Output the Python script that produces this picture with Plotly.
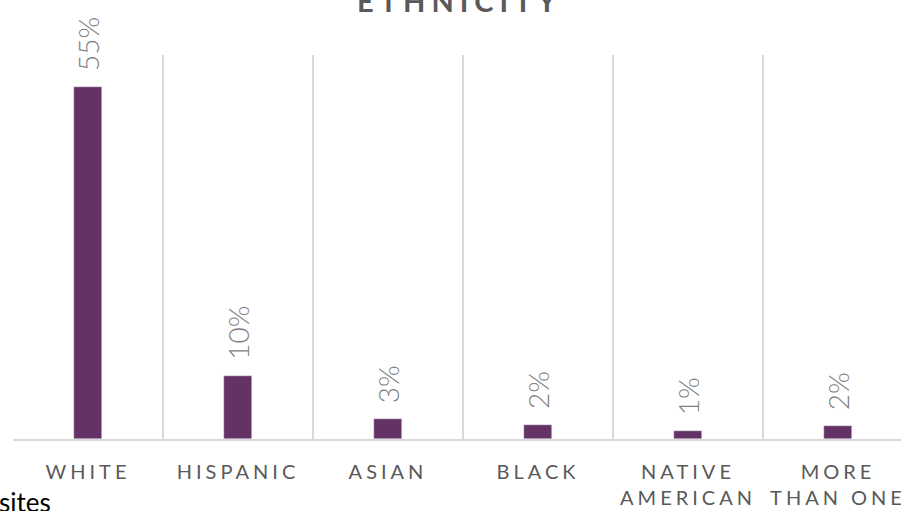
import plotly.graph_objects as go

categories = ["WHITE", "HISPANIC", "ASIAN", "BLACK", "NATIVE<br>AMERICAN", "MORE<br>THAN ONE"]
values = [55.0, 9.9, 3.1, 2.2, 1.2, 2.0]
labels = ["55%", "10%", "3%", "2%", "1%", "2%"]

BAR = "#643264"
GRID = "#d9d9d9"
xpos = list(range(len(categories)))
bounds = [i - 0.5 for i in range(len(categories) + 1)]
xr = [-0.5, 5.42]

fig = go.Figure()
fig.add_trace(go.Bar(x=xpos, y=values, marker_color=BAR, width=0.187,
                     hoverinfo="skip", showlegend=False))
# invisible trace for the grid axis
fig.add_trace(go.Scatter(x=[bounds[0]], y=[0], xaxis="x2", mode="markers",
                         marker=dict(opacity=0), showlegend=False, hoverinfo="skip"))

for xi, v, t in zip(xpos, values, labels):
    fig.add_annotation(x=xi, y=v, xref="x", yref="y", text=t, textangle=-90,
                       showarrow=False, yanchor="bottom", yshift=14,
                       font=dict(family="Lato", size=28, color="#7f7f7f", weight=300))

fig.add_annotation(x=0.503, y=1.092, xref="paper", yref="paper", text="ETHNICITY",
                   showarrow=False, xanchor="center", yanchor="bottom",
                   font=dict(family="Lato", size=29, color="#595959", weight="bold"))
fig.add_annotation(x=-0.0185, y=-0.118, xref="paper", yref="paper", text="sites",
                   showarrow=False, xanchor="left", yanchor="top",
                   font=dict(family="Lato", size=26, color="#000000"))

fig.update_layout(
    width=901, height=511,
    margin=dict(l=13, r=0, t=55, b=72),
    paper_bgcolor="white", plot_bgcolor="white",
    bargap=0,
    xaxis=dict(range=xr, tickvals=xpos, ticktext=categories, showgrid=False,
               showline=True, linecolor=GRID, linewidth=2, ticks="",
               ticklabelstandoff=14, zeroline=False, automargin=False,
               tickfont=dict(family="Lato", size=20, color="#595959")),
    xaxis2=dict(range=xr, overlaying="x", tickvals=bounds, showgrid=True,
                gridcolor=GRID, gridwidth=1.5, showticklabels=False, ticks="",
                zeroline=False, side="bottom"),
    yaxis=dict(range=[0, 60], showgrid=False, showticklabels=False,
               zeroline=False, showline=False, ticks=""),
)

post = """
document.body.style.margin='0';
document.body.style.overflow='hidden';
document.querySelectorAll('.xtick text').forEach(function(t){t.style.letterSpacing='4px';});
document.querySelectorAll('.annotation-text').forEach(function(t){
  if (t.textContent === 'ETHNICITY') t.style.letterSpacing='6px';
});
"""
fig.write_html("out.html", post_script=post, config={"displayModeBar": False})
